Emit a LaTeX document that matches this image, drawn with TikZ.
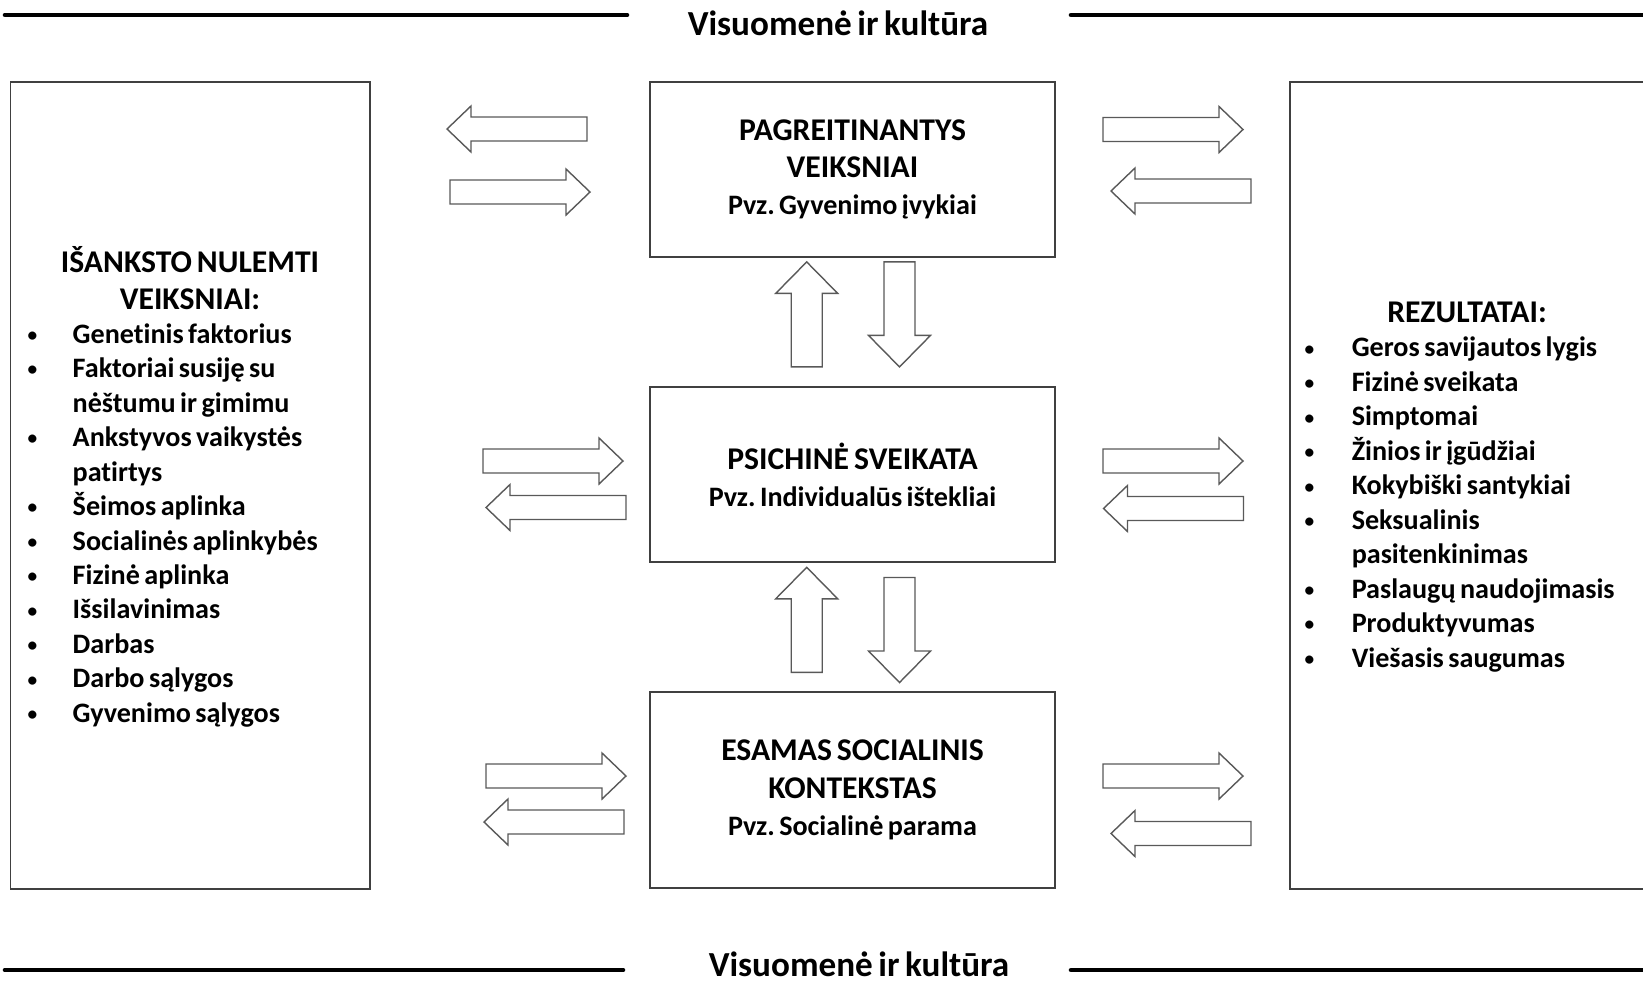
\documentclass[tikz,border=0pt]{standalone}
\usepackage{fontspec}
\setmainfont{Carlito}[Ligatures=NoCommon, WordSpace=0.7]
\usetikzlibrary{calc}
\def\blockarrow(#1)(#2)(#3:#4:#5:#6){\draw[blockarrow,shift={(#1)},rotate=#2] (-#3,-#6) -- ({#3-#4},-#6) -- ({#3-#4},-#5) -- (#3,0) -- ({#3-#4},#5) -- ({#3-#4},#6) -- (-#3,#6) -- cycle;}
\newlength\bulwd
\newcommand\bigcaps{\fontsize{9}{11}\selectfont}
\newcommand\bul{\makebox[\bulwd][l]{\raisebox{0.5pt}{\fontsize{5.5}{5.5}\selectfont\textbullet}}}
\newcommand\listindent{\hspace*{\bulwd}}
\frenchspacing
\tikzset{
	box/.style={draw=black!75, line width=0.5pt, inner sep=0pt},
	blockarrow/.style={draw=black!65, line width=0.4pt, fill=white},
	band/.style={line width=1.3pt, line cap=round},
	heading/.style={font=\bfseries\fontsize{10}{12}\selectfont, inner sep=0pt},
	boxtext/.style={font=\bfseries\fontsize{8}{10.6}\selectfont, align=center},
	listtext/.style={font=\bfseries\fontsize{8}{9.8}\selectfont, align=left, inner sep=0pt, anchor=west},
}

\begin{document}
\begin{tikzpicture}[x=0.01cm, y=-0.01cm]
		%%%%% FRAME %%%%%
		\useasboundingbox (0, 0) rectangle (1643, 981);
		
		\draw[band] (5, 15) -- (627, 15);
		\draw[band] (1071, 15) -- (1650, 15);
		\node[heading] (soctop) at (838, 23) {Visuomenė ir kultūra};
		
		\draw[band] (5, 970) -- (623, 970);
		\draw[band] (1071, 970) -- (1650, 970);
		\node[heading] (socbot) at (859, 964) {Visuomenė ir kultūra};
		
		%%%%% BOXES %%%%%
		\node[box, minimum width=3.595cm, minimum height=8.07cm] (leftbox) at (190.25, 485.5) {};
		\node[box, minimum width=3.6cm, minimum height=8.07cm] (rightbox) at (1470, 485.5) {};
		
		\node[box, boxtext, minimum width=4.05cm, minimum height=1.75cm] (pagr) at (852.5, 169.5)
			{\bigcaps PAGREITINANTYS\\ \bigcaps VEIKSNIAI\\ Pvz. Gyvenimo įvykiai};
		\node[box, boxtext, minimum width=4.05cm, minimum height=1.75cm] (psich) at (852.5, 474.5)
			{\bigcaps PSICHINĖ SVEIKATA\\ Pvz. Individualūs ištekliai};
		\node[box, boxtext, minimum width=4.05cm, minimum height=1.96cm] (esamas) at (852.5, 790)
			{\bigcaps ESAMAS SOCIALINIS\\ \bigcaps KONTEKSTAS\\ Pvz. Socialinė parama};
		
		%%%%% LEFT COLUMN %%%%%
		\node[boxtext, inner sep=0pt] (lefthead) at (190, 278) {\bigcaps IŠANKSTO NULEMTI\\ \bigcaps VEIKSNIAI:};
		\setlength\bulwd{4.5mm}
		\node[listtext] (leftlist) at (27, 525.3) {%
			\bul Genetinis faktorius\\
			\bul Faktoriai susiję su\\
			\listindent nėštumu ir gimimu\\
			\bul Ankstyvos vaikystės\\
			\listindent patirtys\\
			\bul Šeimos aplinka\\
			\bul Socialinės aplinkybės\\
			\bul Fizinė aplinka\\
			\bul Išsilavinimas\\
			\bul Darbas\\
			\bul Darbo sąlygos\\
			\bul Gyvenimo sąlygos};
		
		%%%%% RIGHT COLUMN %%%%%
		\node[boxtext, inner sep=0pt] (righthead) at (1467, 312) {\bigcaps REZULTATAI:};
		\setlength\bulwd{4.7mm}
		\node[listtext] (rightlist) at (1304, 504.5) {%
			\bul Geros savijautos lygis\\
			\bul Fizinė sveikata\\
			\bul Simptomai\\
			\bul Žinios ir įgūdžiai\\
			\bul Kokybiški santykiai\\
			\bul Seksualinis\\
			\listindent pasitenkinimas\\
			\bul Paslaugų naudojimasis\\
			\bul Produktyvumas\\
			\bul Viešasis saugumas};
		
		%%%%% ARROWS %%%%%
		\blockarrow(517, 129)(180)(70:24:23:12)
		\blockarrow(520, 192)(0)(70:24:23:12)
		\blockarrow(1173, 129.5)(0)(70:24:23:12)
		\blockarrow(1181, 191)(180)(70:24:23:12)
		
		\blockarrow(553, 461)(0)(70:24:23:12)
		\blockarrow(556, 507.5)(180)(70:24:23:12)
		\blockarrow(1173, 461)(0)(70:24:23:12)
		\blockarrow(1173.5, 508.5)(180)(70:24:23:12)
		
		\blockarrow(556, 776)(0)(70:24:23:12)
		\blockarrow(554, 822)(180)(70:24:23:12)
		\blockarrow(1173, 776)(0)(70:24:23:12)
		\blockarrow(1181, 833.5)(180)(70:24:23:12)
		
		\blockarrow(806.7, 314.4)(90)(52.5:31.5:31:15.5)
		\blockarrow(899.5, 314.4)(-90)(52.5:31.5:31:15.5)
		\blockarrow(806.7, 619.8)(90)(52.5:31.5:31:15.5)
		\blockarrow(899.5, 630)(-90)(52.5:31.5:31:15.5)
		
		%%%%% END %%%%%
\end{tikzpicture}
\end{document}
